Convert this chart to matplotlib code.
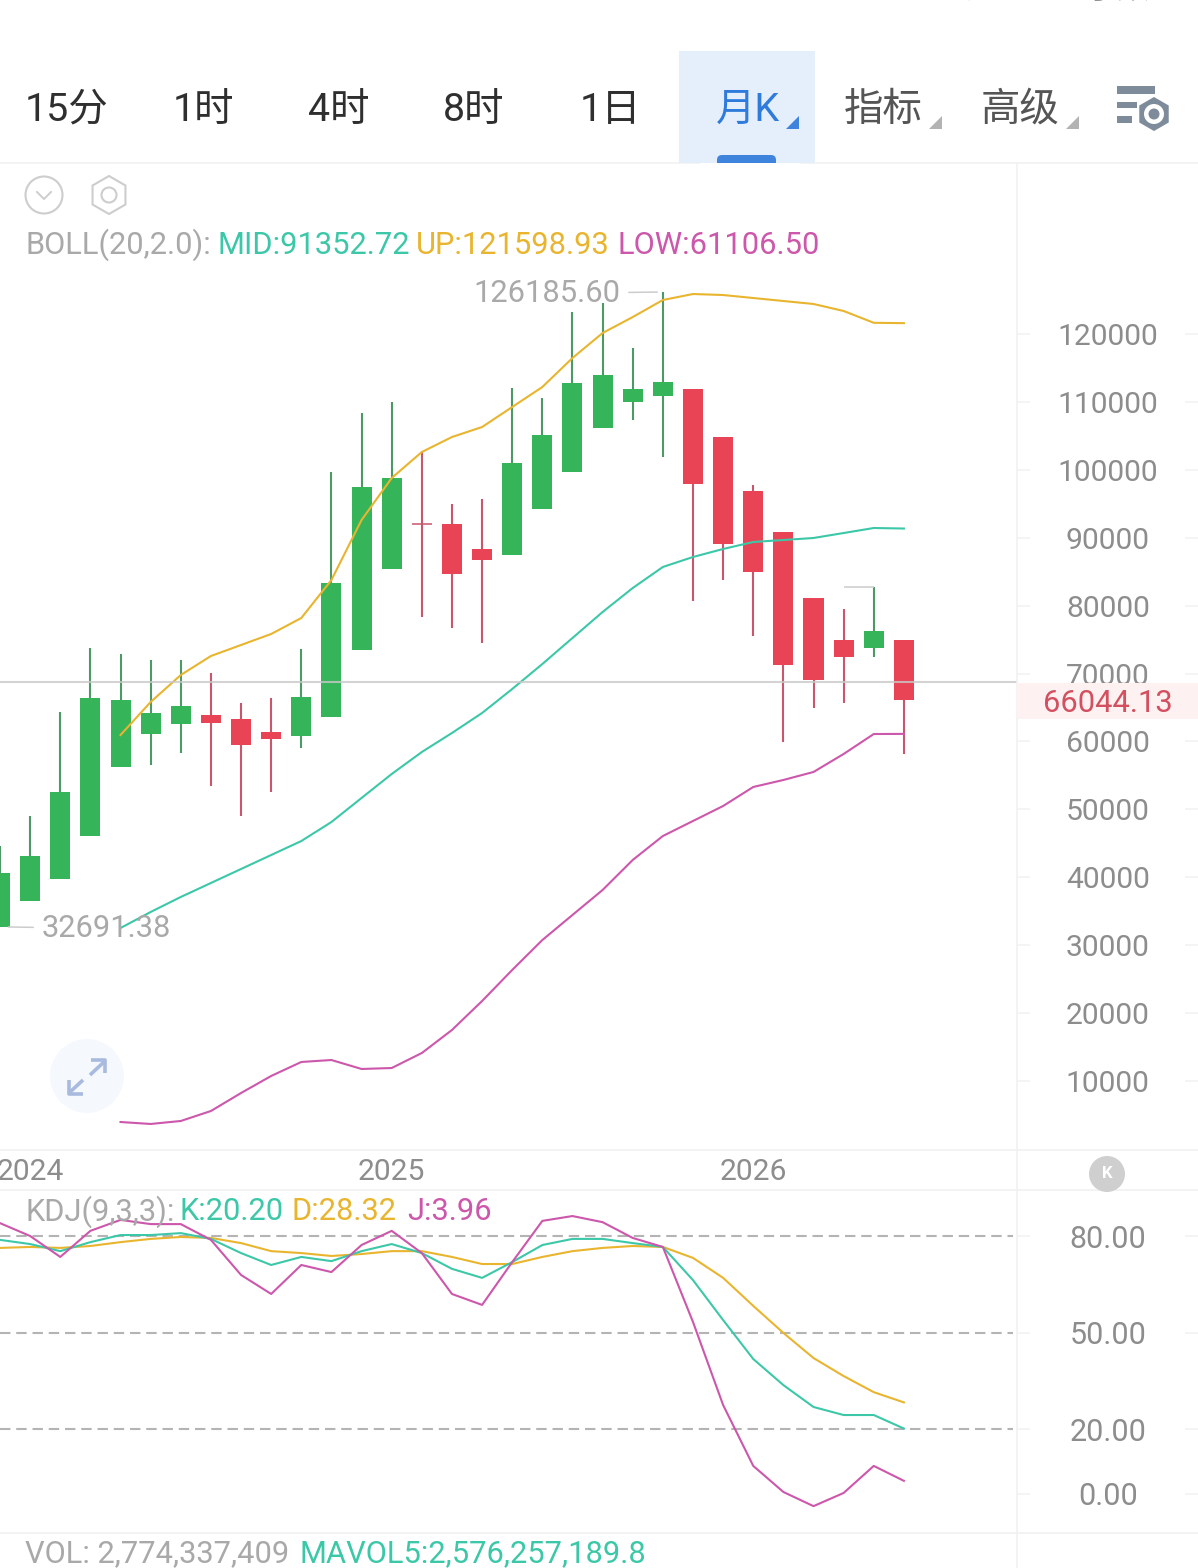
import matplotlib
matplotlib.use("Agg")
import matplotlib.pyplot as plt
from matplotlib.patches import Circle, Polygon, Rectangle, RegularPolygon, FancyBboxPatch

plt.rcParams['font.family'] = ['Roboto', 'Noto Sans CJK SC', 'DejaVu Sans']

# Monthly candles
opens = [32691, 36500, 39740, 46070, 56230, 61090, 62565, 63890, 63300, 61390, 60800,
         63600, 73460, 85390, 92020, 92020, 88340, 87450, 94230, 99680, 106160, 109990,
         110870, 111900, 104830, 96880, 90840, 81120, 74935, 73760, 74935]
closes = [40620, 43125, 52550, 66390, 66100, 64185, 65220, 62710, 59470, 60360, 66540,
          83330, 97470, 98790, 92020, 84655, 86720, 101000, 105130, 112780, 113960, 111900,
          112930, 97910, 89070, 84950, 71250, 69045, 72430, 76260, 66044.13]
highs = [44600, 49016, 64330, 73760, 72870, 71990, 71990, 70075, 65660, 66390, 73610,
         99680, 108370, 109990, 102770, 94960, 95700, 112050, 110575, 123240, 124565, 117940,
         126185.60, 111900, 104830, 97760, 90840, 81120, 79500, 82740, 74935]
lows = [32691.38, 36500, 39740, 46070, 56230, 56530, 58290, 53430, 49016, 52550, 59030,
        63600, 73460, 85390, 78320, 76700, 74490, 87450, 94230, 99680, 106160, 107335,
        101890, 80680, 83770, 75520, 59910, 64920, 65660, 72430, 58150]

# Bollinger bands, available from the fifth candle on
boll_start = 4
boll_up = [60945, 65805, 69780, 72580, 74200, 75820, 78175, 83770, 92610, 98790, 102620,
           104830, 106300, 109250, 112195, 116465, 120147, 122500, 125007, 125890, 125740,
           125300, 124860, 124420, 123390, 121650, 121598.93]
boll_mid = [32520, 34880, 37090, 39150, 41210, 43270, 45330, 48130, 51670, 55200, 58440,
            61240, 64185, 67720, 71400, 75230, 79060, 82590, 85690, 87160, 88340,
            89370, 89660, 89960, 90690, 91430, 91352.72]
boll_low = [3950, 3660, 4100, 5570, 8220, 10730, 12790, 13080, 11760, 11900, 14110,
            17500, 21770, 26340, 30750, 34440, 38120, 42540, 46070, 48280, 50490,
            53290, 54320, 55500, 58150, 61090, 61106.50]

# KDJ oscillator
kdj_k = [78.8, 77.5, 75.3, 78.1, 80.3, 80.3, 80.9, 79.1, 74.7, 71.0, 73.5, 72.2, 75.3, 77.5,
         74.7, 69.8, 67.0, 71.9, 77.2, 79.1, 79.1, 77.8, 76.6, 66.3, 53.9, 41.8, 33.7, 26.9,
         24.4, 24.4, 20.20]
kdj_d = [76.3, 76.6, 76.3, 76.9, 78.1, 79.1, 79.7, 79.4, 77.8, 75.3, 74.7, 73.8, 74.4, 75.3,
         75.3, 73.5, 71.3, 71.3, 73.5, 75.3, 76.3, 76.9, 76.6, 73.2, 67.0, 58.3, 49.9, 42.1,
         36.5, 31.5, 28.32]
kdj_j = [84.0, 80.0, 73.5, 81.6, 85.0, 83.7, 83.7, 78.8, 67.9, 62.0, 71.0, 68.8, 77.2, 81.6,
         74.7, 62.0, 58.6, 71.9, 84.7, 86.2, 84.3, 79.4, 76.6, 53.3, 27.5, 8.6, 0.5, -3.9,
         0.2, 8.6, 3.96]

price_ticks = [120000, 110000, 100000, 90000, 80000, 70000, 60000, 50000, 40000, 30000, 20000, 10000]
kdj_ticks = [80, 50, 20, 0]
kdj_levels = [80, 50, 20]
year_positions = [1, 13, 25]
year_labels = ['2024', '2025', '2026']
reference_price = 68750
tabs = ['15分', '1时', '4时', '8时', '1日', '月K', '指标', '高级']

W, H = 1198, 1568
GREEN, RED = '#35b45a', '#e84455'
GREEN_WICK, RED_WICK = '#4b9a66', '#c9566b'
TEAL, YELLOW, MAGENTA = '#3cc8a8', '#e9b52f', '#cc57ab'
GRAY_TEXT, AXIS_TEXT, RULE = '#a9a9a9', '#8d8d8d', '#f1f1f1'
FS = 22.2
TICK_FS = 21.6


def panel(fig, left, top, right, bottom):
    return fig.add_axes([left / W, 1 - bottom / H, (right - left) / W, (bottom - top) / H])


fig = plt.figure(figsize=(W / 100, H / 100), dpi=100, facecolor='white')
ax = panel(fig, 0, 163, 1017, 1150)
ax_kdj = panel(fig, 0, 1190, 1017, 1533)
xlim = (0, 1017 / 30.13)

# Candles
xs = list(range(len(closes)))
for i in xs:
    up = closes[i] > opens[i]
    ax.vlines(i, lows[i], highs[i], color=GREEN_WICK if up else RED_WICK, lw=1.5, zorder=2)
    if closes[i] == opens[i]:
        ax.hlines(opens[i], i - 0.33, i + 0.33, color=RED_WICK, lw=1.1, zorder=3)
    else:
        ax.bar(i, abs(closes[i] - opens[i]), bottom=min(opens[i], closes[i]), width=0.665,
               color=GREEN if up else RED, linewidth=0, zorder=3)

boll_x = xs[boll_start:]
ax.plot(boll_x, boll_up, color=YELLOW, lw=1.5, zorder=4)
ax.plot(boll_x, boll_mid, color=TEAL, lw=1.5, zorder=4)
ax.plot(boll_x, boll_low, color=MAGENTA, lw=1.5, zorder=4)

ax.axhline(reference_price, color='#c9c9c9', lw=1.5, alpha=0.8, zorder=5)

# Extreme-value callouts
hi = highs.index(max(highs))
lo = lows.index(min(lows))
ax.annotate(f'{highs[hi]:.2f}', xy=(hi, highs[hi]), xytext=(-30.5, -1), textcoords='offset points',
            ha='right', va='center', fontsize=FS, color=GRAY_TEXT, zorder=6,
            arrowprops=dict(arrowstyle='-', color='#cccccc', lw=1.1, relpos=(1, 0.53), shrinkA=4, shrinkB=4))
ax.annotate(f'{lows[lo]:.2f}', xy=(lo, lows[lo]), xytext=(30, -1.5), textcoords='offset points',
            ha='left', va='center', fontsize=FS, color=GRAY_TEXT, zorder=6,
            arrowprops=dict(arrowstyle='-', color='#cccccc', lw=1.1, relpos=(0, 0.55), shrinkA=4, shrinkB=6))
ax.hlines(highs[29], 28, 29, color='#cccccc', lw=1.1, zorder=2)

ax.set_xlim(xlim)
ax.set_ylim(-173, 145184)
ax.set_xticks(year_positions, year_labels)
ax.tick_params(axis='x', length=0, pad=6, labelsize=TICK_FS, labelcolor=AXIS_TEXT)
ax.yaxis.tick_right()
ax.set_yticks(price_ticks, [str(t) for t in price_ticks])
ax.tick_params(axis='y', length=9.4, width=1.1, color=RULE, pad=56, labelsize=TICK_FS, labelcolor=AXIS_TEXT)
for lbl in ax.get_yticklabels():
    lbl.set_ha('center')
ax.hlines(price_ticks, 1185 / 1017, W / 1017, transform=ax.get_yaxis_transform(), color=RULE, lw=1.1, clip_on=False)

# KDJ panel
for lv in kdj_levels:
    ax_kdj.hlines(lv, xlim[0], 1013 / 30.13, color='#b4b4b4', lw=1.5, linestyle=(0, (5, 2.8)), zorder=1)
ax_kdj.plot(xs, kdj_d, color=YELLOW, lw=1.5, zorder=3)
ax_kdj.plot(xs, kdj_k, color=TEAL, lw=1.5, zorder=3)
ax_kdj.plot(xs, kdj_j, color=MAGENTA, lw=1.5, zorder=3)
ax_kdj.set_xlim(xlim)
ax_kdj.set_ylim(-12.24, 94.29)
ax_kdj.set_xticks([])
ax_kdj.yaxis.tick_right()
ax_kdj.set_yticks(kdj_ticks, [f'{t:.2f}' for t in kdj_ticks])
ax_kdj.tick_params(axis='y', length=9.4, width=1.1, color=RULE, pad=56, labelsize=22, labelcolor=AXIS_TEXT)
for lbl in ax_kdj.get_yticklabels():
    lbl.set_ha('center')
ax_kdj.hlines(kdj_ticks, 1185 / 1017, W / 1017, transform=ax_kdj.get_yaxis_transform(), color=RULE, lw=1.1, clip_on=False)

for a in (ax, ax_kdj):
    a.patch.set_visible(False)
    for s in a.spines.values():
        s.set_visible(False)

# Screen chrome drawn in pixel coordinates
ui = fig.add_axes([0, 0, 1, 1], zorder=10)
ui.set_xlim(0, W)
ui.set_ylim(H, 0)
ui.axis('off')
ui.patch.set_visible(False)

for y in (163, 1150, 1190, 1533):
    ui.plot([0, W], [y, y], color=RULE, lw=1.2, zorder=1)
ui.plot([1017, 1017], [163, H], color=RULE, lw=1.2, zorder=1)

ui.add_patch(Rectangle((679, 51), 136, 112, fc='#e4effb', ec='none', zorder=1))
ui.add_patch(FancyBboxPatch((719, 157), 55, 10, boxstyle='round,pad=2,rounding_size=5', fc='#3f84dc', ec='none', zorder=2))
ui.add_patch(Rectangle((700, 163), 100, 8, fc='white', ec='none', zorder=3))

tab_x = [67, 203, 339, 474, 610, 748, 883, 1020]
tab_colors = ['#2f2f2f'] * 5 + ['#2f7bdc', '#555555', '#555555']
for label, x, c in zip(tabs, tab_x, tab_colors):
    ui.text(x, 110, label, ha='center', va='center', fontsize=28.4, color=c, zorder=4)
for x, c in ((799, '#3f84dc'), (942, '#b3b3b3'), (1079, '#b3b3b3')):
    ui.add_patch(Polygon([(x - 13, 129), (x, 129), (x, 116)], fc=c, ec='none', zorder=4))

ui.text(953, -11, '金额', ha='center', va='center', fontsize=23, color='#8d8d8d', clip_on=True)
ui.text(1117, -11, '手数', ha='center', va='center', fontsize=23, color='#8d8d8d', clip_on=True)

# Settings icon
SLATE = '#7d8b9b'
for x0, x1, y0, y1 in ((1117, 1155, 86, 94), (1117, 1137, 102, 108), (1117, 1132, 116, 123)):
    ui.add_patch(Rectangle((x0, y0), x1 - x0, y1 - y0, fc=SLATE, ec='none', zorder=4))
ui.add_patch(RegularPolygon((1154, 114), 6, radius=17, fc=SLATE, ec='none', zorder=4))
ui.add_patch(Circle((1154, 114), 10, fc='white', ec='none', zorder=5))
ui.add_patch(Circle((1154, 114), 5.5, fc=SLATE, ec='none', zorder=6))

# Collapse and settings glyphs above the legend
ICON = '#cdcdcd'
ui.add_patch(Circle((44, 195), 18.5, fc='none', ec=ICON, lw=1.5))
ui.plot([37, 44, 51], [192, 199, 192], color=ICON, lw=1.4)
ui.add_patch(RegularPolygon((109, 195), 6, radius=19, fc='none', ec=ICON, lw=1.5))
ui.add_patch(Circle((109, 195), 7.5, fc='none', ec=ICON, lw=1.5))

# Legends
for x, y, txt, c in (
        (25, 245, 'BOLL(20,2.0):', GRAY_TEXT),
        (217, 245, f'MID:{boll_mid[-1]:.2f}', TEAL),
        (416, 245, f'UP:{boll_up[-1]:.2f}', YELLOW),
        (617, 245, f'LOW:{boll_low[-1]:.2f}', MAGENTA),
        (25, 1212, 'KDJ(9,3,3):', GRAY_TEXT),
        (180, 1212, f'K:{kdj_k[-1]:.2f}', TEAL),
        (291, 1212, f'D:{kdj_d[-1]:.2f}', YELLOW),
        (407, 1212, f'J:{kdj_j[-1]:.2f}', MAGENTA),
        (25, 1554, 'VOL: 2,774,337,409', GRAY_TEXT),
        (299, 1554, 'MAVOL5:2,576,257,189.8', TEAL)):
    ui.text(x, y, txt, ha='left', va='center', fontsize=FS, color=c, zorder=7)

# Last-price tag, covering the tick label beneath it
ui.add_patch(Rectangle((1017, 683), W - 1017, 36, fc='#fdf2f1', ec='none', zorder=6))
ui.text(1108, 703, f'{closes[-1]:.2f}', ha='center', va='center', fontsize=FS, color='#d2505f', zorder=7)

# Fullscreen button
ui.add_patch(Circle((87, 1076), 37, fc='#f5f9fd', ec='none', zorder=6))
ARROW = '#a8bade'
for pts in ([(90, 1075), (105, 1061)], [(91, 1060), (105, 1060), (105, 1073)],
            [(83, 1080), (69, 1093)], [(69, 1080), (69, 1094), (83, 1094)]):
    ui.plot(*zip(*pts), color=ARROW, lw=2.6, zorder=7, solid_capstyle='butt')

# Jump-to-latest button
ui.add_patch(Circle((1107, 1174), 18, fc='#cfcfcf', ec='none', zorder=6))
ui.text(1107, 1174, 'K', ha='center', va='center', fontsize=12, fontweight='bold', color='white', zorder=7)

fig.savefig('out.png', dpi=100)
